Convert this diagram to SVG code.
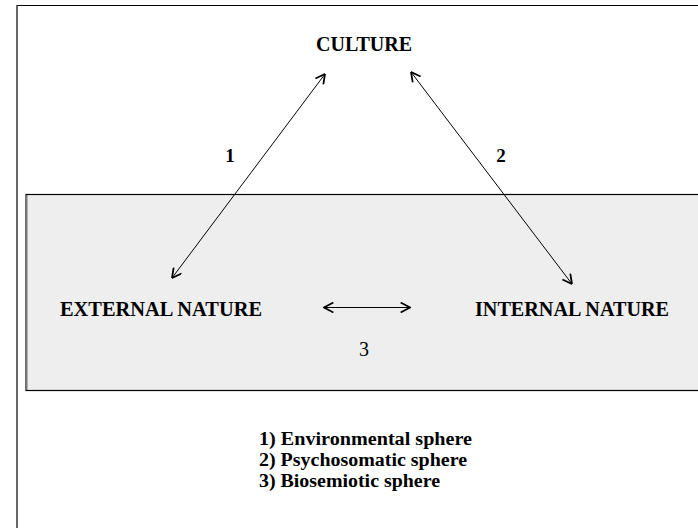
<svg xmlns="http://www.w3.org/2000/svg" width="698" height="528" viewBox="0 0 698 528">
<style>
.b{font-family:"Liberation Serif","Times New Roman",serif;font-weight:bold;fill:#000}
.n{font-family:"Liberation Serif","Times New Roman",serif;fill:#000}
.c{stroke:#000;stroke-width:1;fill:none}
</style>
<defs>
<marker id="ah" viewBox="0 0 10 10" refX="9.5" refY="5" markerWidth="11" markerHeight="11" markerUnits="userSpaceOnUse" orient="auto-start-reverse">
<path d="M1,0.5 L9.5,5 L1,9.5" fill="none" stroke="#000" stroke-width="1.6"/>
</marker>
</defs>
<rect x="0" y="0" width="698" height="528" fill="#fff"/>
<g id="frame">
<line x1="17" y1="5.5" x2="698" y2="5.5" stroke="#000" stroke-width="1.2"/>
<line x1="17" y1="5" x2="17" y2="528" stroke="#333" stroke-width="1.5"/>
</g>
<g id="nature-box">
<rect x="26" y="194.5" width="680" height="196" fill="#eeeeee" stroke="#000" stroke-width="1.2"/>
<line x1="26.5" y1="195" x2="26.5" y2="390" stroke="#777" stroke-width="2"/>
</g>
<g id="culture"><text class="b" x="364" y="51" font-size="20" text-anchor="middle">CULTURE</text></g>
<g id="external-nature"><text class="b" x="161" y="316" font-size="20" text-anchor="middle" textLength="202" lengthAdjust="spacingAndGlyphs">EXTERNAL NATURE</text></g>
<g id="internal-nature"><text class="b" x="572" y="316" font-size="20" text-anchor="middle" textLength="194" lengthAdjust="spacingAndGlyphs">INTERNAL NATURE</text></g>
<g id="connectors">
<line class="c" x1="325" y1="74" x2="172" y2="278" marker-start="url(#ah)" marker-end="url(#ah)"/>
<line class="c" x1="411" y1="72" x2="572" y2="284" marker-start="url(#ah)" marker-end="url(#ah)"/>
<line class="c" x1="324" y1="307.5" x2="410" y2="307.5" marker-start="url(#ah)" marker-end="url(#ah)"/>
<text class="b" x="230" y="162" font-size="19" text-anchor="middle">1</text>
<text class="b" x="501" y="162" font-size="19" text-anchor="middle">2</text>
<text class="n" x="364" y="356" font-size="20" text-anchor="middle">3</text>
</g>
<g id="legend">
<text class="b" x="259" y="445" font-size="18" textLength="213" lengthAdjust="spacingAndGlyphs">1) Environmental sphere</text>
<text class="b" x="259" y="466" font-size="18" textLength="208" lengthAdjust="spacingAndGlyphs">2) Psychosomatic sphere</text>
<text class="b" x="259" y="487" font-size="18" textLength="181" lengthAdjust="spacingAndGlyphs">3) Biosemiotic sphere</text>
</g>
</svg>
